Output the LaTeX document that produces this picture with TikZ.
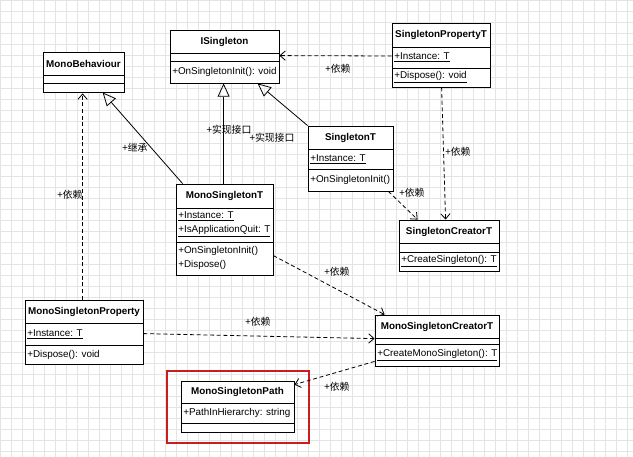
\documentclass[tikz,border=0pt]{standalone}
\usepackage{fontspec}
\setmainfont{Liberation Sans}
\newfontfamily\cjk{Noto Sans CJK SC}
\usetikzlibrary{arrows.meta,fit,calc}

\definecolor{gridColor}{RGB}{228,228,228}
\definecolor{pathRed}{RGB}{200,30,30}

\tikzset{
  cls/.style={draw, semithick, fill=white, inner sep=0pt},
  ttl/.style={font=\fontsize{7.4}{9}\selectfont\bfseries},
  mbr/.style={right, inner sep=1.5pt, font=\fontsize{7.4}{9}\selectfont},
  lbl/.style={font=\fontsize{7.4}{9}\selectfont\cjk},
  inherit/.style={semithick, -{Triangle[open,length=10pt,width=9pt]}},
  depend/.style={semithick, densely dashed, -{Straight Barb[length=4pt,width=7pt]}}
}
% class box: name, x1, y1, x2, y2
\newcommand{\umlbox}[5]{\node[cls, fit={(#2,#3)(#4,#5)}] (#1) {};}

\begin{document}
\begin{tikzpicture}[x=0.75pt,y=-0.75pt]
  \useasboundingbox (0,0) rectangle (633,457);
  \foreach \gx in {0,11,...,633} \draw[gridColor] (\gx,0) -- (\gx,457);
  \foreach \gy in {0,11,...,457} \draw[gridColor] (0,\gy) -- (633,\gy);
  % Classes
  \umlbox{isg}{170}{30}{279}{83}
  \draw[semithick] (170,53) -- (279,53) (170,61) -- (279,61);
  \node[ttl] at (224.5,41.5) {ISingleton};
  \node[mbr] at (170,72) {+OnSingletonInit(): void};

  \umlbox{mb}{43}{52}{124}{92}
  \draw[semithick] (43,75) -- (124,75) (43,83) -- (124,83);
  \node[ttl] at (83.5,63.5) {MonoBehaviour};

  \umlbox{spt}{392}{23}{490}{87}
  \draw[semithick] (392,47) -- (490,47) (392,68) -- (490,68);
  \node[ttl] at (441,35) {SingletonPropertyT};
  \node[mbr] at (392,57.5) {\underline{+Instance: T}};
  \node[mbr] at (392,77.5) {\underline{+Dispose(): void}};

  \umlbox{st}{308}{126}{393}{191}
  \draw[semithick] (308,149) -- (393,149) (308,169) -- (393,169);
  \node[ttl] at (350.5,137.5) {SingletonT};
  \node[mbr] at (308,159) {\underline{+Instance: T}};
  \node[mbr] at (308,180) {+OnSingletonInit()};

  \umlbox{mst}{176}{184}{273}{275}
  \draw[semithick] (176,208) -- (273,208) (176,242) -- (273,242);
  \node[ttl] at (224.5,196) {MonoSingletonT};
  \node[mbr] at (176,216.5) {\underline{+Instance: T}};
  \node[mbr] at (176,231.5) {\underline{+IsApplicationQuit: T}};
  \node[mbr] at (176,251) {+OnSingletonInit()};
  \node[mbr] at (176,265) {+Dispose()};

  \umlbox{sct}{399}{220}{499}{271}
  \draw[semithick] (399,243) -- (499,243) (399,252) -- (499,252);
  \node[ttl] at (449,231.5) {SingletonCreatorT};
  \node[mbr] at (399,261.5) {\underline{+CreateSingleton(): T}};

  \umlbox{msp}{25}{300}{143}{364}
  \draw[semithick] (25,323) -- (143,323) (25,345) -- (143,345);
  \node[ttl] at (84,311.5) {MonoSingletonProperty};
  \node[mbr] at (25,334) {\underline{+Instance: T}};
  \node[mbr] at (25,354.5) {+Dispose(): void};

  \umlbox{msct}{375}{315}{499}{366}
  \draw[semithick] (375,338) -- (499,338) (375,344) -- (499,344);
  \node[ttl] at (437,326.5) {MonoSingletonCreatorT};
  \node[mbr] at (375,355) {\underline{+CreateMonoSingleton(): T}};

  \umlbox{mspath}{181}{381}{294}{432}
  \draw[semithick] (181,403) -- (294,403) (181,423) -- (294,423);
  \node[ttl] at (237.5,392) {MonoSingletonPath};
  \node[mbr] at (181,413) {+PathInHierarchy: string};
  \node[draw=pathRed, very thick, inner sep=0pt, fit={(167,371)(309,443)}] (hl) {};

  % Inheritance
  \draw[inherit] ($(mst.north west)+(7,0)$) -- ($(mb.south west)+(60,0)$);
  \draw[inherit] ($(mst.north west)+(48,0)$) -- ($(isg.south west)+(54,0)$);
  \draw[inherit] (st.north west) -- ($(isg.south west)+(88,0)$);
  \node[lbl] at (135,148) {+继承};
  \node[lbl] at (229,130) {+实现接口};
  \node[lbl] at (272,138) {+实现接口};
  % Dependencies
  \draw[depend] ($(spt.west)+(0,1)$) -- ($(isg.north east)+(0,26)$);
  \draw[depend] ($(spt.south west)+(50,0)$) -- ($(sct.north west)+(47,0)$);
  \draw[depend] ($(st.south east)+(-5,0)$) -- ($(sct.north west)+(19,0)$);
  \draw[depend] ($(msp.north west)+(58,0)$) -- ($(mb.south west)+(40,1)$);
  \draw[depend] ($(mst.north east)+(0,72)$) -- ($(msct.north west)+(10,0)$);
  \draw[depend] ($(msp.north east)+(0,34)$) -- ($(msct.north west)+(0,24)$);
  \draw[depend] ($(msct.south west)+(0,-5)$) -- ($(mspath.north east)+(0,4)$);
  \node[lbl] at (338,69) {+依赖};
  \node[lbl] at (458,152) {+依赖};
  \node[lbl] at (412,193) {+依赖};
  \node[lbl] at (70,195) {+依赖};
  \node[lbl] at (337,272) {+依赖};
  \node[lbl] at (258,322) {+依赖};
  \node[lbl] at (337,387) {+依赖};
\end{tikzpicture}
\end{document}
